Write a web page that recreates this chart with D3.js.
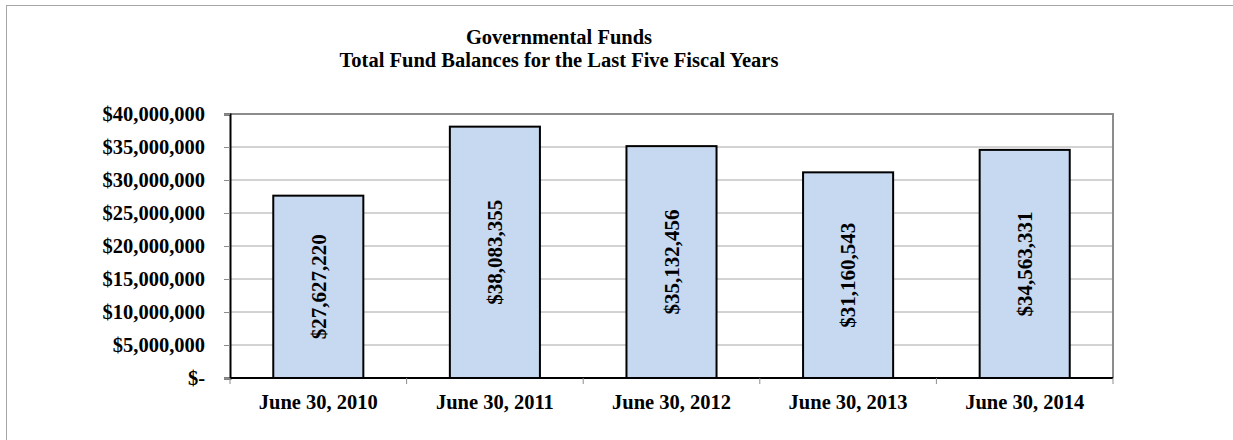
<!DOCTYPE html>
<html>
<head>
<meta charset="utf-8">
<script src="https://cdn.jsdelivr.net/npm/d3@7"></script>
<style>
  html, body { margin: 0; padding: 0; background: #fff; }
  svg { display: block; }
  text { font-family: "Liberation Serif", "Times New Roman", serif; font-weight: bold; fill: #000; }
</style>
</head>
<body>
<svg id="chart" width="1233" height="440"></svg>
<script>
// Fund balance at fiscal year end
const categories = ["June 30, 2010", "June 30, 2011", "June 30, 2012", "June 30, 2013", "June 30, 2014"];
const balances = [27627220, 38083355, 35132456, 31160543, 34563331];
const yTicks = [0, 5000000, 10000000, 15000000, 20000000, 25000000, 30000000, 35000000, 40000000];
const titleLines = ["Governmental Funds", "Total Fund Balances for the Last Five Fiscal Years"];

const svg = d3.select("#chart");
const W = 1233, H = 440;
const plot = { left: 230, right: 1113, top: 114, bottom: 378 };

// outer chart frame (only top and left edges fall inside the view)
svg.append("rect")
  .attr("x", 6.5).attr("y", 5.5)
  .attr("width", W + 20).attr("height", H + 20)
  .attr("fill", "#fff").attr("stroke", "#a6a6a6").attr("stroke-width", 1);

// title
const title = svg.append("text").attr("text-anchor", "middle").style("font-size", "20.5px");
titleLines.forEach((t, i) => {
  title.append("tspan").attr("x", 559).attr("y", 44 + i * 23).text(t);
});

const x = d3.scaleBand()
  .domain(categories)
  .range([plot.left, plot.right])
  .paddingInner(0.49).paddingOuter(0.245);
const xOuter = d3.scaleBand().domain(categories).range([plot.left, plot.right]);

const y = d3.scaleLinear().domain([0, 40000000]).range([plot.bottom, plot.top]);

// horizontal gridlines
svg.append("g")
  .selectAll("line")
  .data(yTicks.filter(v => v > 0 && v < 40000000))
  .join("line")
  .attr("x1", plot.left).attr("x2", plot.right)
  .attr("y1", d => y(d)).attr("y2", d => y(d))
  .attr("stroke", "#a6a6a6").attr("stroke-width", 1);

// plot area border (top and right)
svg.append("path")
  .attr("d", `M${plot.left},${y(40000000)}H${plot.right}V${plot.bottom}`)
  .attr("fill", "none").attr("stroke", "#8c8c8c").attr("stroke-width", 2);

// bars
svg.append("g")
  .selectAll("rect")
  .data(balances)
  .join("rect")
  .attr("x", (d, i) => x(categories[i]))
  .attr("width", x.bandwidth())
  .attr("y", d => y(d))
  .attr("height", d => y(0) - y(d))
  .attr("fill", "#c6d9f1")
  .attr("stroke", "#000")
  .attr("stroke-width", 2);

// value labels, rotated inside bars
const fmt = d3.format(",");
svg.append("g")
  .selectAll("text")
  .data(balances)
  .join("text")
  .attr("transform", (d, i) => {
    const cx = x(categories[i]) + x.bandwidth() / 2;
    const cy = (y(d) + y(0)) / 2;
    return `translate(${cx},${cy}) rotate(-90)`;
  })
  .attr("text-anchor", "middle")
  .attr("dy", "0.35em")
  .style("font-size", "21px")
  .text(d => "$" + fmt(d));

// y axis
const yAxis = d3.axisLeft(y)
  .tickValues(yTicks)
  .tickSize(6)
  .tickPadding(19)
  .tickFormat(d => d === 0 ? "$-" : "$" + fmt(d));
const gy = svg.append("g").attr("transform", `translate(${plot.left},0)`).call(yAxis);
gy.select(".domain").attr("stroke", "#000").attr("stroke-width", 2);
gy.selectAll(".tick line").attr("stroke", "#8c8c8c");
gy.selectAll(".tick text")
  .style("font-size", "20.5px")
  .style("font-family", "'Liberation Serif', 'Times New Roman', serif")
  .style("font-weight", "bold");

// x axis baseline with ticks between categories
const gx = svg.append("g");
gx.append("line")
  .attr("x1", plot.left).attr("x2", plot.right)
  .attr("y1", plot.bottom).attr("y2", plot.bottom)
  .attr("stroke", "#000").attr("stroke-width", 2);
const boundaries = categories.map(c => xOuter(c)).concat([plot.right]);
gx.selectAll("line.tick")
  .data(boundaries)
  .join("line")
  .attr("class", "tick")
  .attr("x1", d => d).attr("x2", d => d)
  .attr("y1", plot.bottom).attr("y2", plot.bottom + 6)
  .attr("stroke", "#8c8c8c").attr("stroke-width", 1);
gx.selectAll("text")
  .data(categories)
  .join("text")
  .attr("x", d => xOuter(d) + xOuter.bandwidth() / 2)
  .attr("y", 409)
  .attr("text-anchor", "middle")
  .style("font-size", "20.5px")
  .text(d => d);
</script>
</body>
</html>
